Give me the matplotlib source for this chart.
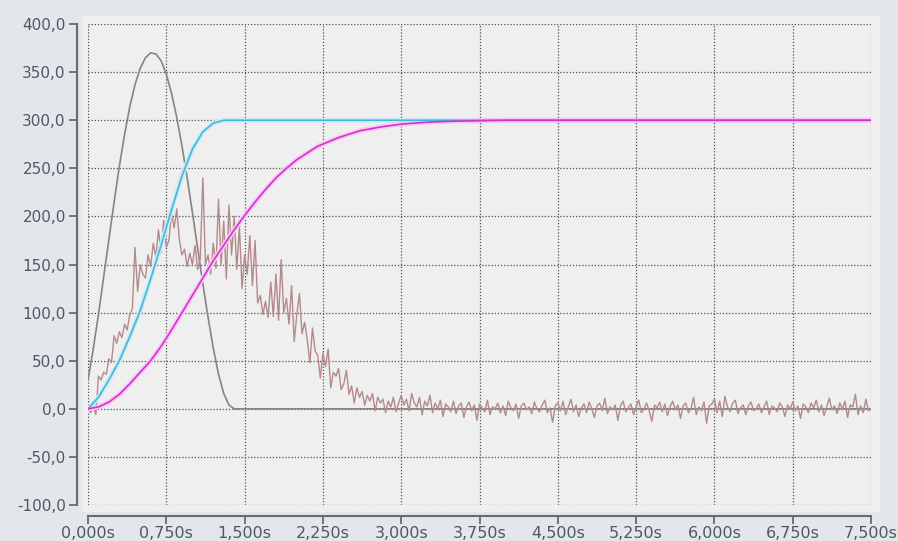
import matplotlib
matplotlib.use("Agg")
import matplotlib.pyplot as plt
import numpy as np
from matplotlib.patches import Rectangle
from matplotlib.ticker import FuncFormatter, MultipleLocator

plt.rcParams['font.family'] = ['DejaVu Sans']

# curva gris (bump)
t_gris = [0.0, 0.05, 0.10, 0.15, 0.20, 0.25, 0.30, 0.35, 0.40, 0.45, 0.50, 0.55,
          0.60, 0.65, 0.70, 0.75, 0.80, 0.85, 0.90, 0.95, 1.00, 1.05, 1.10, 1.15,
          1.20, 1.25, 1.30, 1.35, 1.40, 7.50]
v_gris = [30, 62, 98, 137, 176, 215, 252, 285, 314, 337, 354, 365,
          370, 369, 362, 348, 328, 303, 273, 240, 204, 167, 130, 95,
          63, 36, 16, 4, 0, 0]

# curva cian
t_cian = [0.0, 0.1, 0.2, 0.3, 0.4, 0.5, 0.6, 0.7, 0.8, 0.9, 1.0, 1.1, 1.2, 1.3, 7.5]
v_cian = [0, 12, 30, 50, 75, 102, 135, 170, 207, 242, 270, 288, 297, 300, 300]

# curva magenta
t_mag = [0.0, 0.1, 0.2, 0.3, 0.4, 0.5, 0.6, 0.7, 0.8, 0.9, 1.0, 1.1, 1.2, 1.3,
         1.4, 1.5, 1.6, 1.7, 1.8, 1.9, 2.0, 2.2, 2.4, 2.6, 2.8, 3.0, 3.25, 3.5,
         4.0, 7.5]
v_mag = [0, 2, 7, 15, 26, 38, 50, 65, 82, 100, 118, 136, 154, 170,
         186, 201, 215, 228, 240, 250, 259, 273, 282, 289, 293, 296, 298, 299,
         300, 300]

# señal medida (ruidosa), paso 0.025 s
dt = 0.025
v_ruido = [
    2, -4, 3, -6, 34, 30, 38, 36, 52, 48, 76, 68, 80, 74, 88, 82, 98, 104, 168, 122,
    150, 140, 136, 160, 148, 172, 158, 186, 162, 196, 168, 175, 204, 188, 208, 176, 160, 166, 148, 162,
    150, 170, 145, 156, 240, 150, 160, 140, 172, 146, 218, 150, 195, 135, 212, 160, 200, 145, 190, 125,
    160, 140, 180, 128, 175, 110, 118, 98, 112, 95, 132, 96, 140, 92, 155, 100, 115, 88, 128, 70,
    98, 120, 78, 90, 72, 48, 84, 60, 56, 32, 58, 44, 62, 22, 38, 34, 42, 20, 26, 40,
    15, 24, 6, 22, 12, 18, 4, 14, 8, 16, -2, 12, 6, 10, -4, 8, 2, 12, -3, 6,
    14,
    4, 10, -2, 16, 6, 2, 12, -6, 8, 3, 14, -4, 6, 0, 9, -8, 5, 2, -3,
    8, -5, 3, 6, -9, 2, 7, -2, 4, -12, 5, 1, -3, 9, -6, 2, 0, 6, -4, 3,
    -7, 8, 1, -2, 5, -10, 3, 6, -1, 2, -5, 7, 0, -3, 4, 9, -4, 1, -14, 3,
    6, -2, 8, -6, 2, 10, -3, 4, -8, 1, 5, -4, 7, 0, -9, 3, 6, -2, 11, -5,
    2, -1, 4, -12, 3, 8, -3, 1, 5, -6, 2, 9, -4, 0, 6, -2, -13, 4, 1, 7,
    -3, 5, -7, 2, 8, -1, 4, -10, 3, 6, -4, 0, 12, -6, 2, -2, 7, -15, 3, 5,
    10, -4, 8, -8, 13, 2, -3, 6, 9, -5, 1, 4, -6, 3, 7, -2, 0, 5, -4, 2,
    8, -6, 3, 1, -3, 6, 2, -8, 4, 0, 7, -2, 3, -10, 5, 2, -4, 6, 1, 9,
    -3, 4, -7, 2, 11, -1, 3, -5, 6, 0, 8, -9, 4, 2, 15, -6, 3, -4, 10, -2,
    0,
]
t_ruido = np.arange(len(v_ruido)) * dt

fondo = '#e3e7ec'
panel = '#efefef'
txt = '#4e5862'

fig = plt.figure(figsize=(8.98, 5.41), dpi=100, facecolor=fondo)
fig.patches.append(Rectangle((0.0913, 0.0536), 0.8886, 0.9168, transform=fig.transFigure,
                             facecolor=panel, edgecolor='none', zorder=-10))
ax = fig.add_axes([0.098, 0.0665, 0.872, 0.889])
ax.set_facecolor('none')

ax.plot(t_gris, v_gris, color='#858585', lw=1.2, zorder=3)
ax.plot(t_ruido, v_ruido, color='#b48a8a', lw=1.0, zorder=4)
ax.plot(t_cian, v_cian, color='#cdeaf4', lw=3.5, zorder=5)
ax.plot(t_cian, v_cian, color='#40b8dc', lw=1.2, zorder=6)
ax.plot(t_mag, v_mag, color='#f8c8f4', lw=3.5, zorder=5)
ax.plot(t_mag, v_mag, color='#d830d0', lw=1.2, zorder=6)

ax.set_xlim(0, 7.5)
ax.set_ylim(-100, 400)
ax.xaxis.set_major_locator(MultipleLocator(0.75))
ax.yaxis.set_major_locator(MultipleLocator(50))
ax.xaxis.set_major_formatter(FuncFormatter(lambda v, p: ('%.3fs' % v).replace('.', ',')))
ax.yaxis.set_major_formatter(FuncFormatter(lambda v, p: ('%.1f' % v).replace('.', ',')))

ax.grid(True, color='#505050', linestyle=(0, (1, 1.5)), linewidth=0.9, zorder=1)
ax.set_axisbelow(True)

for s in ['top', 'right']:
    ax.spines[s].set_visible(False)
ax.spines['left'].set_position(('outward', 8))
ax.spines['bottom'].set_position(('outward', 8))
for s in ['left', 'bottom']:
    ax.spines[s].set_color('#6a6a6a')
    ax.spines[s].set_linewidth(1.5)
ax.tick_params(axis='both', colors='#6a6a6a', width=1.3, length=6, labelcolor=txt)
ax.tick_params(axis='x', pad=1, labelsize=11.5)
ax.tick_params(axis='y', pad=2, labelsize=11)

fig.savefig('out.png', dpi=100, facecolor=fondo)
